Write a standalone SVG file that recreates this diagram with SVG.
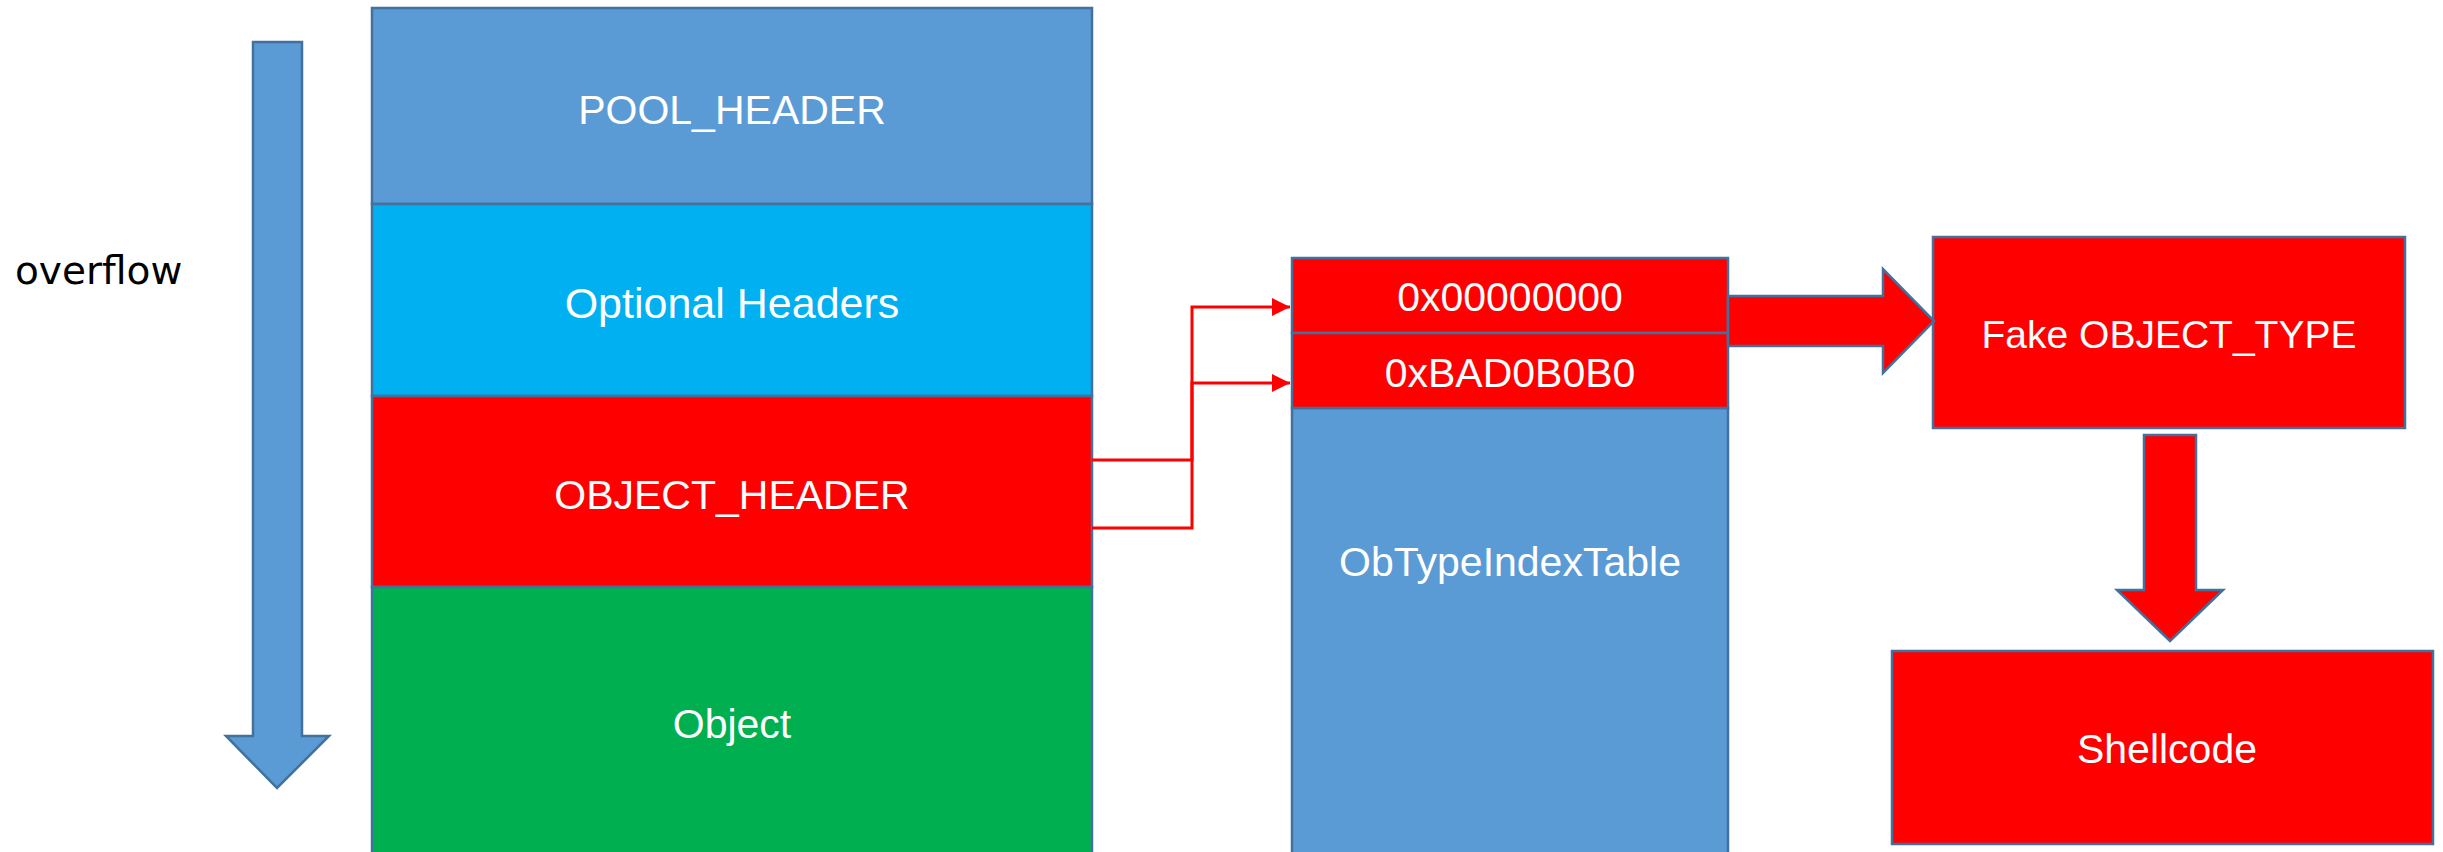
<svg xmlns="http://www.w3.org/2000/svg" width="2443" height="852" viewBox="0 0 2443 852">
<style>
.box{stroke:#41719C;stroke-width:2.5}
.lbl{font-family:"Liberation Sans",Arial,sans-serif;font-size:41px;fill:#ffffff;text-anchor:middle}
.conn{fill:none;stroke:#FF0000;stroke-width:3}
.big{stroke:#41719C;stroke-width:2.5}
</style>
<defs>
<marker id="ah" viewBox="0 0 10 10" refX="10" refY="5" markerWidth="6" markerHeight="6" markerUnits="strokeWidth" orient="auto">
<path d="M0,0 L10,5 L0,10 Z" fill="#FF0000"/>
</marker>
</defs>
<rect width="2443" height="852" fill="#ffffff"/>

<g id="overflow-arrow">
<polygon class="big" fill="#5B9BD5" points="253,42 302,42 302,736 329,736 277,788 226,736 253,736"/>
<text x="15" y="284" font-family="DejaVu Sans,Verdana,sans-serif" font-size="39" fill="#000000">overflow</text>
</g>

<g id="pool-header">
<rect class="box" x="372" y="8" width="720" height="196" fill="#5B9BD5"/>
<text class="lbl" x="732" y="124" font-size="40">POOL_HEADER</text>
</g>
<g id="optional-headers">
<rect class="box" x="372" y="204" width="720" height="192" fill="#00B0F0"/>
<text class="lbl" x="732" y="318" style="font-size:43px">Optional Headers</text>
</g>
<g id="object-header">
<rect class="box" x="372" y="396" width="720" height="191" fill="#FF0000"/>
<text class="lbl" x="732" y="509">OBJECT_HEADER</text>
</g>
<g id="object">
<rect class="box" x="372" y="587" width="720" height="280" fill="#00B050"/>
<text class="lbl" x="732" y="738">Object</text>
</g>

<g id="obtypeindextable">
<rect class="box" x="1292" y="408" width="436" height="460" fill="#5B9BD5"/>
<text class="lbl" x="1510" y="576">ObTypeIndexTable</text>
</g>
<g id="entry0">
<rect class="box" x="1292" y="258" width="436" height="75" fill="#FF0000"/>
<text class="lbl" x="1510" y="311">0x00000000</text>
</g>
<g id="entry1">
<rect class="box" x="1292" y="333" width="436" height="75" fill="#FF0000"/>
<text class="lbl" x="1510" y="387">0xBAD0B0B0</text>
</g>

<g id="fake-object-type">
<rect class="box" x="1933" y="237" width="472" height="191" fill="#FF0000"/>
<text class="lbl" x="2169" y="348" style="font-size:39px">Fake OBJECT_TYPE</text>
</g>
<g id="shellcode">
<rect class="box" x="1892" y="651" width="541" height="193" fill="#FF0000"/>
<text class="lbl" x="2167" y="763">Shellcode</text>
</g>

<g id="connectors">
<polyline class="conn" points="1092,460 1192,460 1192,307 1290,307" marker-end="url(#ah)"/>
<polyline class="conn" points="1092,528 1192,528 1192,383 1290,383" marker-end="url(#ah)"/>
<polygon class="big" fill="#FF0000" points="1728,296 1883,296 1883,269 1934,321 1883,373 1883,346 1728,346"/>
<polygon class="big" fill="#FF0000" points="2144,435 2196,435 2196,590 2223,590 2170,641 2117,590 2144,590"/>
</g>
</svg>
